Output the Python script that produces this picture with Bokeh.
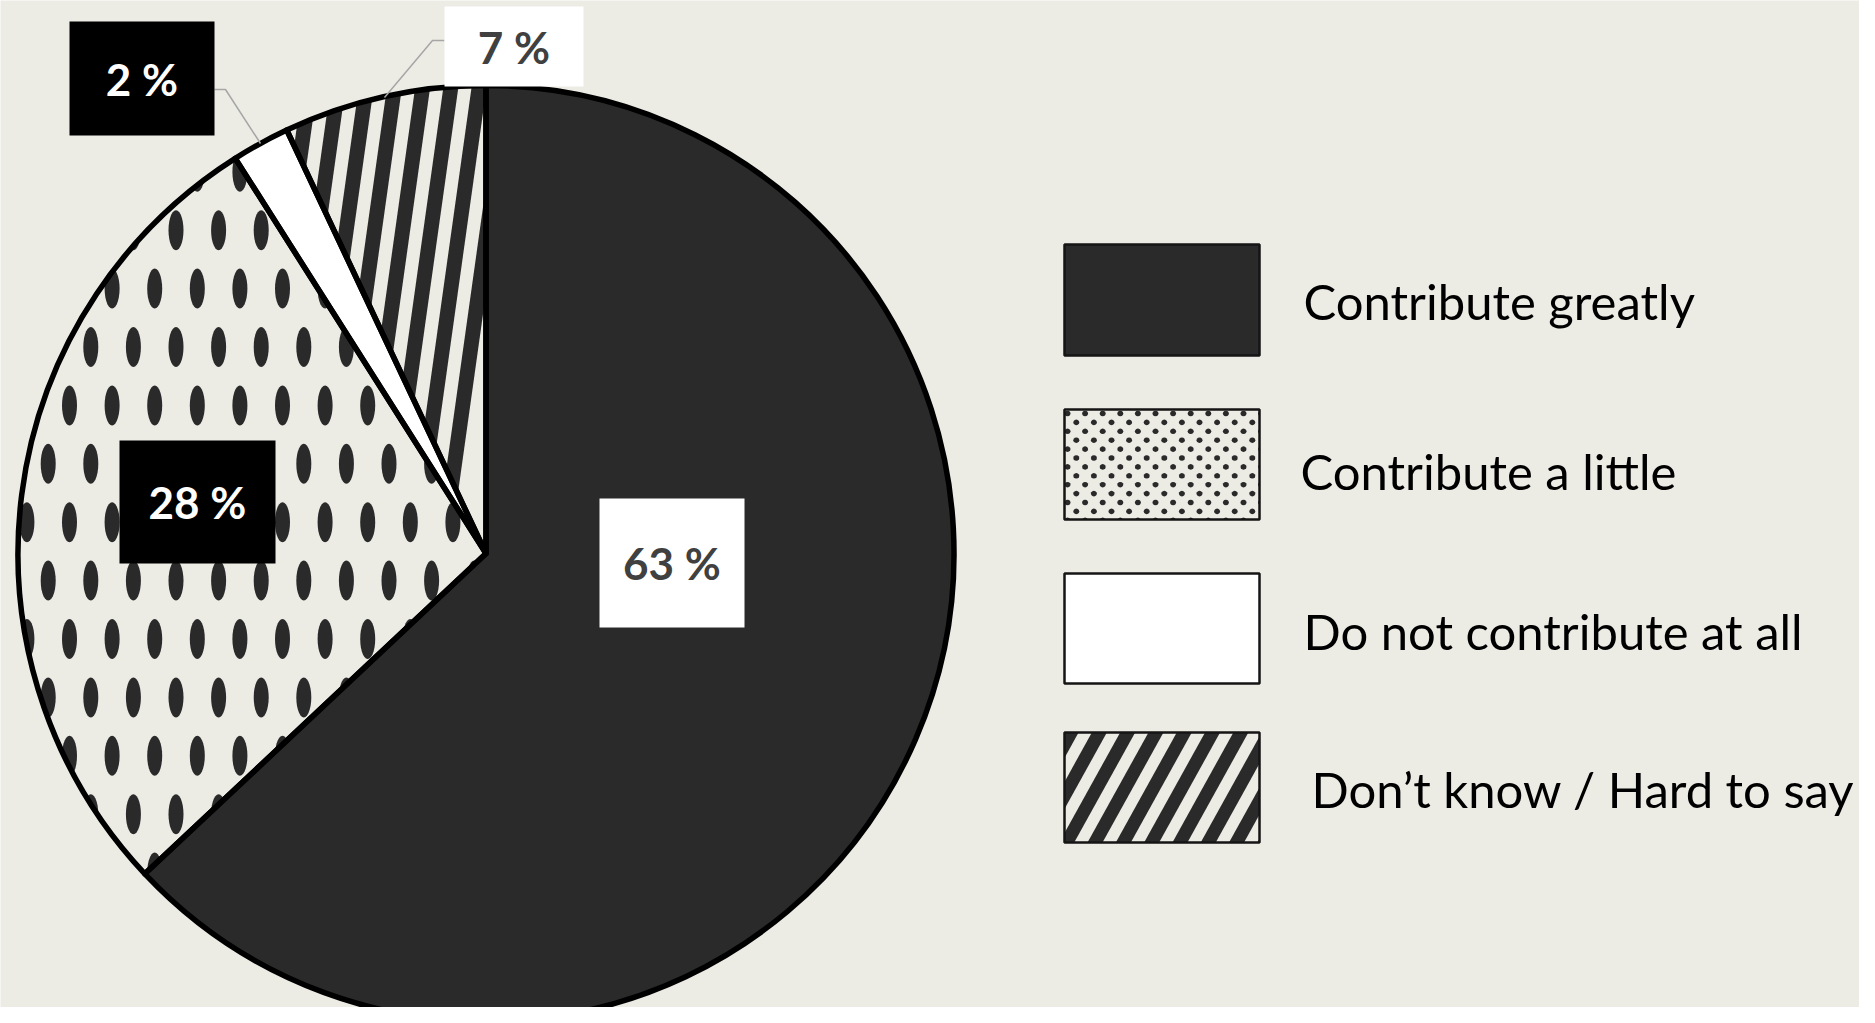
import numpy as np
from bokeh.plotting import figure
from bokeh.models import Range1d, ColumnDataSource
from bokeh.core.properties import value
from bokeh.embed import file_html
from bokeh.resources import INLINE

# ---------------- data ----------------
categories = ["Contribute greatly", "Contribute a little",
              "Do not contribute at all", "Don\u2019t know / Hard to say"]
values = [63, 28, 2, 7]
label_texts = [f"{v} %" for v in values]

# ---------------- style / layout ----------------
BG = "#ECEBE4"
DARK = "#2A2A2A"
W, H = 1859, 1007
FONT = "Lato"

CX, CY, R = 485.5, -553.0, 468.0          # pie centre / radius (page px, y up)
slice_fill = [DARK, BG, "white", BG]

# label boxes: (left, top, right, bottom) in page px, box colour, text colour
label_boxes = [(599, 498, 744, 627, "white", "#404040"),
               (119, 440, 275, 563, "black", "white"),
               (69, 21, 214, 135, "black", "white"),
               (444, 6, 583, 86, "white", "#404040")]
leaders = {2: ([214, 225, 260], [89, 89, 143]),
           3: ([444, 432, 384], [40, 40, 97])}

legend_x0, legend_x1 = 1064, 1259
legend_rows = [(244, 355), (409, 519), (573, 683), (732, 842)]
legend_text_pos = [(1303, 318), (1300, 488), (1303, 648), (1311, 806)]
legend_fill = [DARK, BG, "white", BG]

p = figure(width=W, height=H, output_backend="svg", toolbar_location=None,
           x_range=Range1d(0, W), y_range=Range1d(-H, 0),
           min_border=0, x_axis_location=None, y_axis_location=None)
p.grid.visible = False
p.outline_line_color = None
p.background_fill_color = BG
p.border_fill_color = BG

# ---------------- helpers ----------------
def clip_poly(subject, clip):
    """Sutherland-Hodgman, clip polygon convex & CCW."""
    out = list(subject)
    n = len(clip)
    for i in range(n):
        ax, ay = clip[i]
        bx, by = clip[(i + 1) % n]
        inp = out
        out = []
        if not inp:
            break
        def inside(pt):
            return (bx - ax) * (pt[1] - ay) - (by - ay) * (pt[0] - ax) >= 0
        def inter(s, e):
            dx1, dy1 = e[0] - s[0], e[1] - s[1]
            dx2, dy2 = bx - ax, by - ay
            den = dx1 * dy2 - dy1 * dx2
            if den == 0:
                return e
            t = ((ax - s[0]) * dy2 - (ay - s[1]) * dx2) / den
            return (s[0] + t * dx1, s[1] + t * dy1)
        s = inp[-1]
        for e in inp:
            if inside(e):
                if not inside(s):
                    out.append(inter(s, e))
                out.append(e)
            elif inside(s):
                out.append(inter(s, e))
            s = e
    return out

def add_clipped(polys, clip, xs, ys):
    for poly in polys:
        c = clip_poly(poly, clip)
        if len(c) >= 3:
            xs.append([q[0] for q in c])
            ys.append([q[1] for q in c])

def stripes(x_anchor, y_anchor, period, width, tilt, ytop, ybot, kmin, kmax):
    polys = []
    for k in range(kmin, kmax):
        a = x_anchor + period * k
        polys.append([(a - tilt * (ytop - y_anchor), -ytop),
                      (a - tilt * (ybot - y_anchor), -ybot),
                      (a + width - tilt * (ybot - y_anchor), -ybot),
                      (a + width - tilt * (ytop - y_anchor), -ytop)])
    return polys

def dots(x0, y0, dx, dy, rx, ry, imin, imax, jmin, jmax, npts=28):
    t = np.linspace(0, 2 * np.pi, npts, endpoint=False)
    polys = []
    for j in range(jmin, jmax):
        Y = y0 + j * dy
        off = dx / 2 if j % 2 else 0.0
        for i in range(imin, imax):
            X = x0 + i * dx + off
            polys.append(list(zip(X + rx * np.cos(t), -Y + ry * np.sin(t))))
    return polys

# ---------------- pie ----------------
tot = float(sum(values))
cum = np.concatenate([[0.0], np.cumsum(values) / tot])
starts = np.pi / 2 - 2 * np.pi * cum[:-1]
ends = np.pi / 2 - 2 * np.pi * cum[1:]

src = ColumnDataSource(dict(start=starts, end=ends, fill=slice_fill, cat=categories))
p.wedge(x=CX, y=CY, radius=R, start_angle="start", end_angle="end",
        direction="clock", fill_color="fill", line_color=None, source=src)

def wedge_clip(k, n=180):
    ang = np.linspace(ends[k], starts[k], n)
    return [(CX, CY)] + list(zip(CX + R * np.cos(ang), CY + R * np.sin(ang)))

pxs, pys = [], []
# dotted slice: large elongated dots
ell = [e for e in dots(69, 521.7, 42.6, 58.4, 7.5, 20, -3, 12, -10, 10)
       if np.hypot(e[0][0] - 7.5 - CX, e[0][1] - CY) < R + 30 and e[0][0] < CX + 30]
add_clipped(ell, wedge_clip(1), pxs, pys)
# striped slice: near-vertical stripes
add_clipped(stripes(442, 93, 28.2, 15, 0.14, 80, 570, -12, 3), wedge_clip(3), pxs, pys)

# legend patterns
r2 = legend_rows[1]
rect2 = [(legend_x0, -r2[1]), (legend_x1, -r2[1]), (legend_x1, -r2[0]), (legend_x0, -r2[0])]
add_clipped(dots(legend_x0 + 3, r2[0] + 4, 17.6, 8.9, 3.0, 2.8, -1, 13, 0, 14, 12), rect2, pxs, pys)
r4 = legend_rows[3]
rect4 = [(legend_x0, -r4[1]), (legend_x1, -r4[1]), (legend_x1, -r4[0]), (legend_x0, -r4[0])]
add_clipped(stripes(1089.7, 735, 28.3, 15, 0.554, r4[0] - 2, r4[1] + 2, -5, 9), rect4, pxs, pys)

# legend box fills (drawn before patterns)
p.quad(left=[legend_x0] * 4, right=[legend_x1] * 4,
       top=[-a for a, b in legend_rows], bottom=[-b for a, b in legend_rows],
       fill_color=legend_fill, line_color=None)

p.patches(pxs, pys, fill_color=DARK, line_color=None)

# pie outlines
p.wedge(x=CX, y=CY, radius=R, start_angle="start", end_angle="end",
        direction="clock", fill_alpha=0, line_color="black", line_width=5.5,
        line_join="round", source=src)

# legend outlines
p.quad(left=[legend_x0] * 4, right=[legend_x1] * 4,
       top=[-a for a, b in legend_rows], bottom=[-b for a, b in legend_rows],
       fill_alpha=0, line_color="#151515", line_width=2.5)

# leader lines
for k, (lx, ly) in leaders.items():
    p.line(lx, [-v for v in ly], line_color="#A6A6A6", line_width=1.5)

# data labels
p.quad(left=[b[0] for b in label_boxes], right=[b[2] for b in label_boxes],
       top=[-b[1] for b in label_boxes], bottom=[-b[3] for b in label_boxes],
       fill_color=[b[4] for b in label_boxes], line_color=None)
p.text(x=[(b[0] + b[2]) / 2 for b in label_boxes],
       y=[-(b[1] + b[3]) / 2 for b in label_boxes],
       text=label_texts, text_color=[b[5] for b in label_boxes],
       text_font=value(FONT), text_font_size=value("44px"), text_font_style="bold",
       text_align="center", text_baseline="middle")

# legend texts (vertically centred on the measured cap-height centre)
p.text(x=[t[0] for t in legend_text_pos], y=[-(t[1] - 18) for t in legend_text_pos],
       text=categories, text_color="black", text_font=value(FONT),
       text_font_size=value("49px"), text_align="left", text_baseline="middle")

open("out.html", "w").write(file_html(p, INLINE))
